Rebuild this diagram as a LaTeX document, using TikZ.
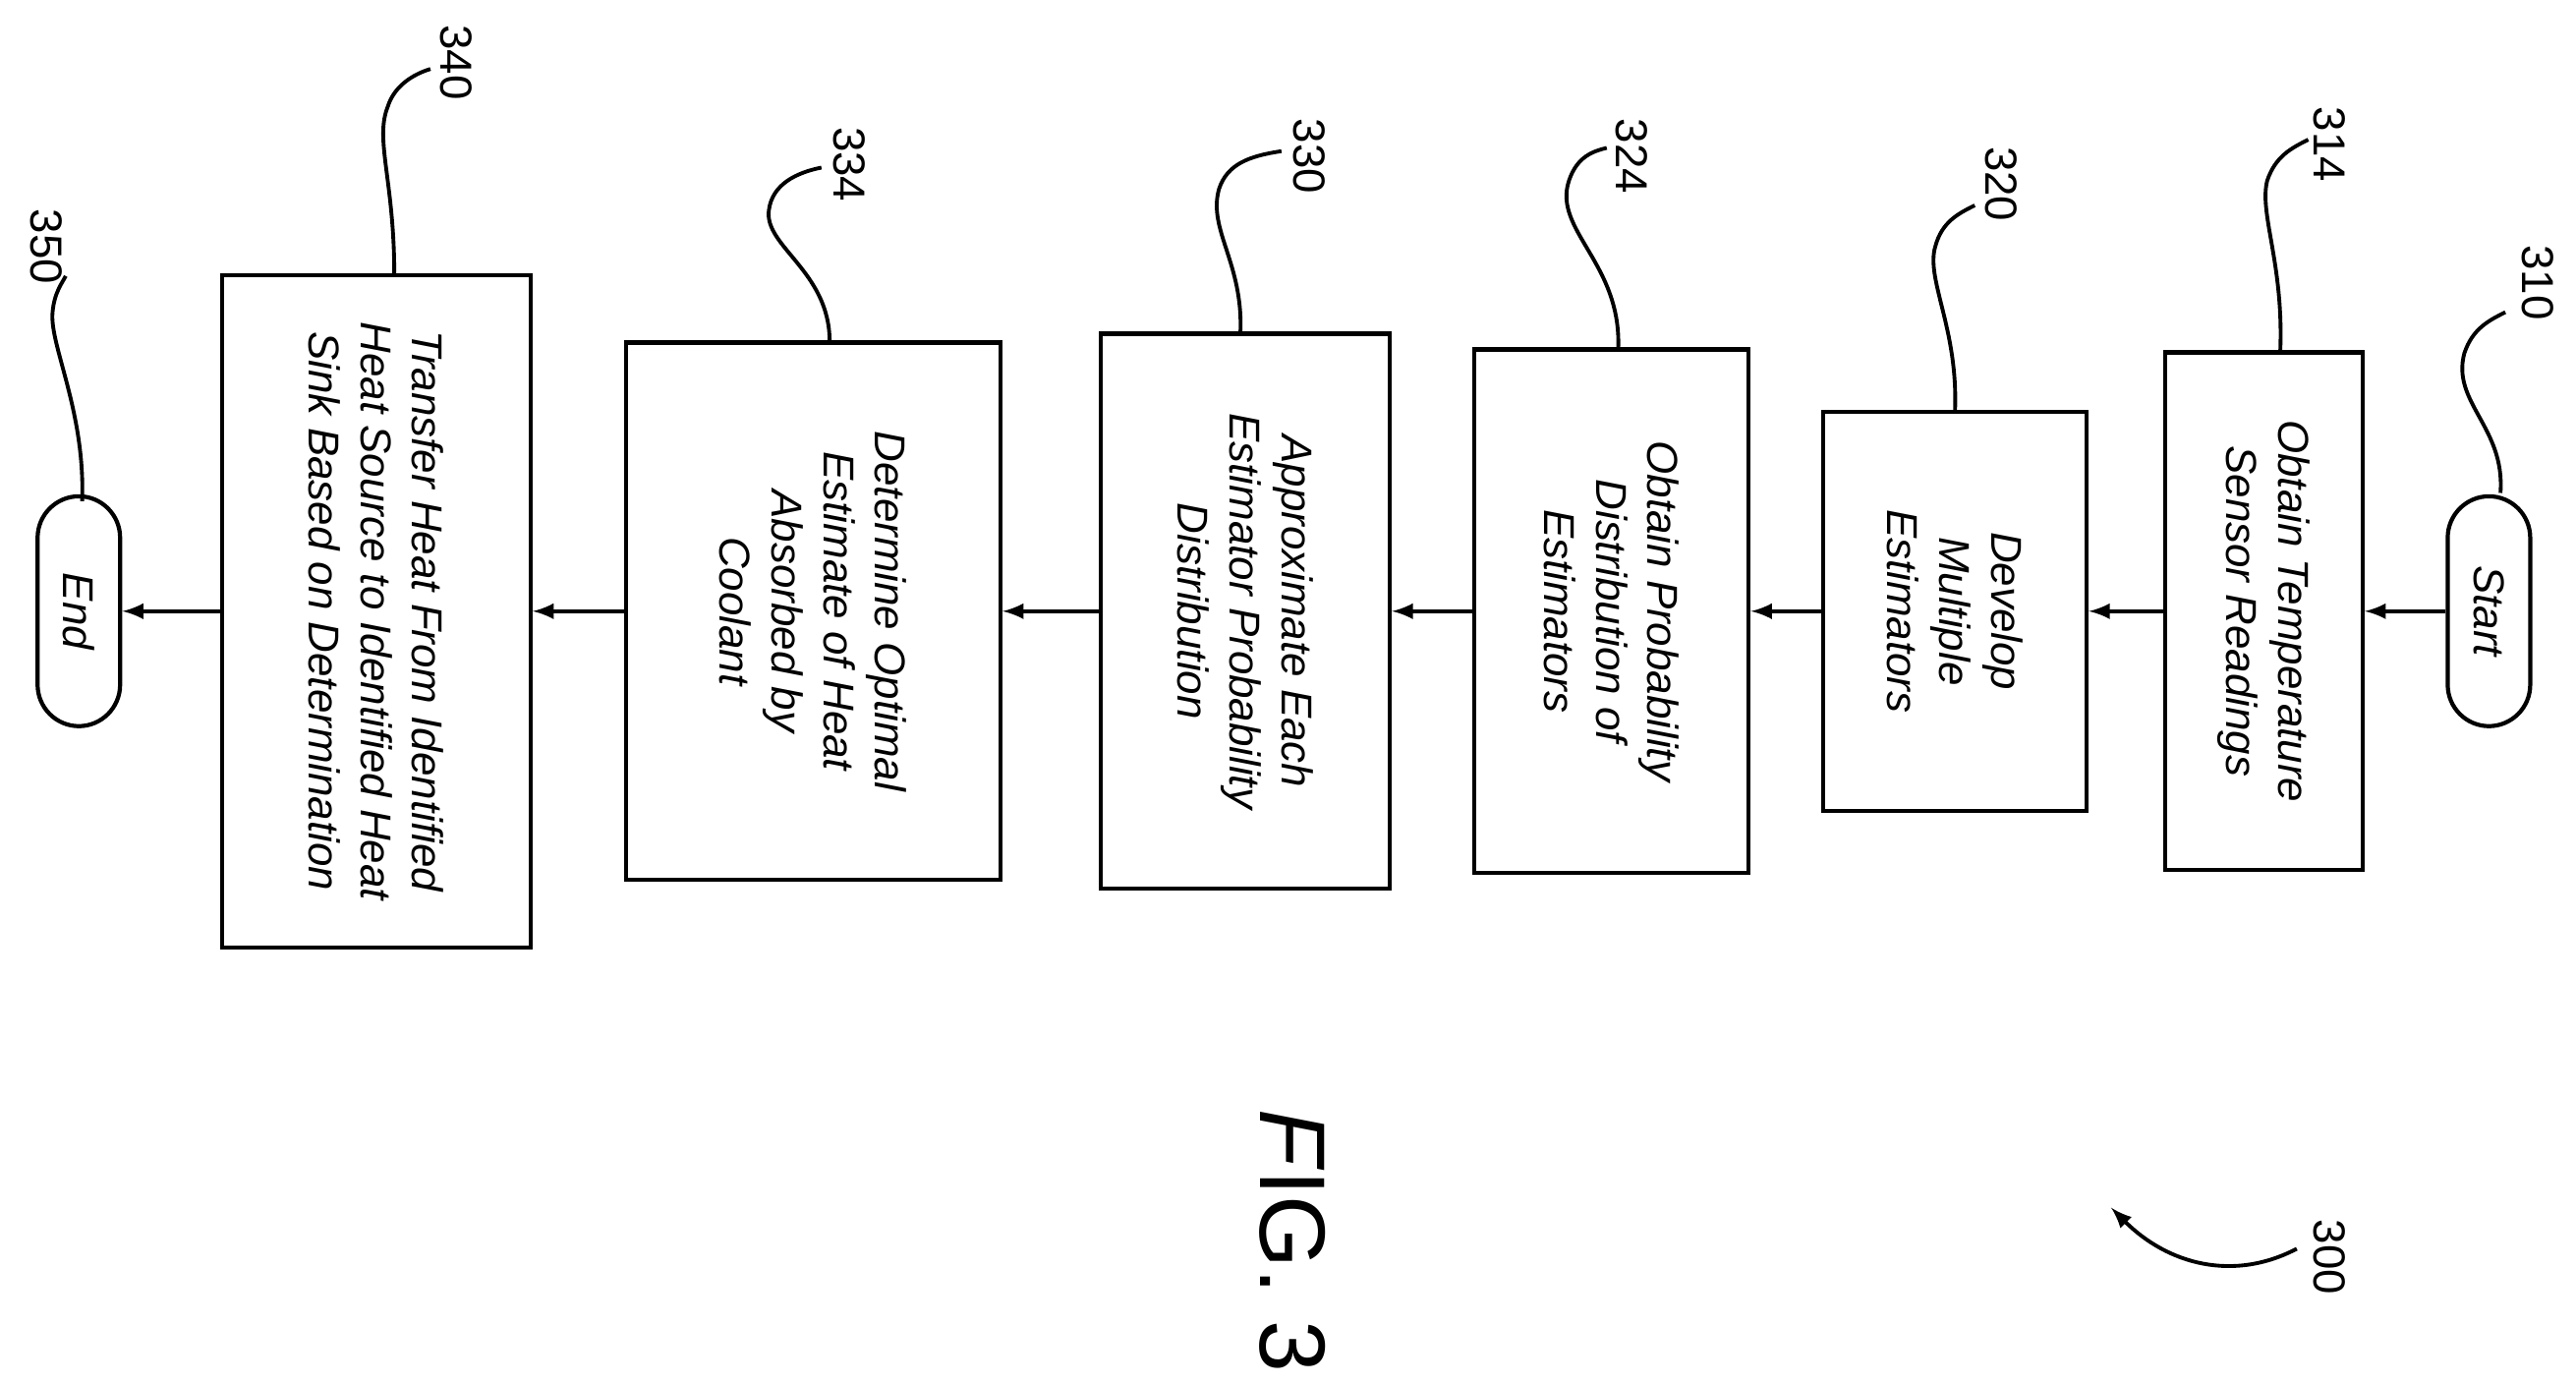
\documentclass[tikz,border=0pt]{standalone}
\usepackage{fontspec}
\setmainfont{Liberation Sans}
\begin{document}
\begin{tikzpicture}[x=0.01672cm,y=-0.01672cm,
  box/.style={draw,line width=1.2pt,rotate=-90,align=center,font=\itshape\fontsize{12.5}{15}\selectfont,inner sep=2pt},
  capsule/.style={box,rounded corners=12pt,minimum width=2.34cm,minimum height=0.84cm},
  lab/.style={rotate=-90,font=\fontsize{13}{15}\selectfont},
  lead/.style={line width=1.1pt},
  >=latex]
\useasboundingbox (0,0) rectangle (1568,842);
\node[capsule] (start) at (1515,372) {Start};
\node[box,minimum width=5.27cm,minimum height=2.01cm] (b314) at (1378,372) {Obtain Temperature\\Sensor Readings};
\node[box,minimum width=4.06cm,minimum height=2.68cm] (b320) at (1190,372) {Develop\\Multiple\\Estimators};
\node[box,minimum width=5.33cm,minimum height=2.79cm] (b324) at (981,372) {Obtain Probability\\Distribution of\\Estimators};
\node[box,minimum width=5.65cm,minimum height=2.94cm] (b330) at (758,372) {Approximate Each\\Estimator Probability\\Distribution};
\node[box,minimum width=5.47cm,minimum height=3.81cm] (b334) at (495,372) {Determine Optimal\\Estimate of Heat\\Absorbed by\\Coolant};
\node[box,minimum width=6.84cm,minimum height=3.14cm] (b340) at (229,372) {Transfer Heat From Identified\\Heat Source to Identified Heat\\Sink Based on Determination};
\node[capsule] (end) at (48,372) {End};
\foreach \a/\b in {start/b314,b314/b320,b320/b324,b324/b330,b330/b334,b334/b340,b340/end}
  \draw[->,line width=1.1pt] (\a) -- (\b);
% labels
\node[lab] (l310) at (1545,172) {310};
\node[lab] (l314) at (1418,88) {314};
\node[lab] (l320) at (1218,112) {320};
\node[lab] (l324) at (993,95) {324};
\node[lab] (l330) at (797,95) {330};
\node[lab] (l334) at (517,100) {334};
\node[lab] (l340) at (278,38) {340};
\node[lab] (l350) at (28,150) {350};
\node[lab] (l300) at (1418,765) {300};
\node[rotate=-90,font=\fontsize{27}{30}\selectfont] (fig) at (787,755) {\textit{F}IG. 3};
\coordinate (p310) at (1522,300);
\coordinate (p314) at (1388,213);
\coordinate (p320) at (1190,250);
\coordinate (p324) at (985,212);
\coordinate (p330) at (755,203);
\coordinate (p334) at (505,208);
\coordinate (p340) at (240,167);
\coordinate (p350) at (50,305);
\coordinate (p300) at (1285,735);
\draw[lead] (p310) .. controls (1525,260) and (1492,245) .. (1500,215) .. controls (1505,200) and (1515,195) .. (1525,190);
\draw[lead] (p314) .. controls (1390,160) and (1375,130) .. (1380,110) .. controls (1385,95) and (1395,90) .. (1405,85);
\draw[lead] (p320) .. controls (1192,200) and (1172,170) .. (1178,150) .. controls (1182,135) and (1192,130) .. (1202,125);
\draw[lead] (p324) .. controls (987,160) and (945,140) .. (955,110) .. controls (960,95) and (970,92) .. (978,90);
\draw[lead] (p330) .. controls (757,160) and (735,140) .. (742,115) .. controls (747,100) and (760,95) .. (780,92);
\draw[lead] (p334) .. controls (505,165) and (465,150) .. (468,128) .. controls (470,112) and (485,105) .. (500,102);
\draw[lead] (p340) .. controls (240,110) and (228,85) .. (236,65) .. controls (240,52) and (252,45) .. (262,42);
\draw[lead] (p350) .. controls (52,250) and (30,210) .. (32,190) .. controls (33,178) and (38,172) .. (40,168);
\draw[lead,->] (1398,760) .. controls (1360,780) and (1320,770) .. (p300);
\end{tikzpicture}
\end{document}
